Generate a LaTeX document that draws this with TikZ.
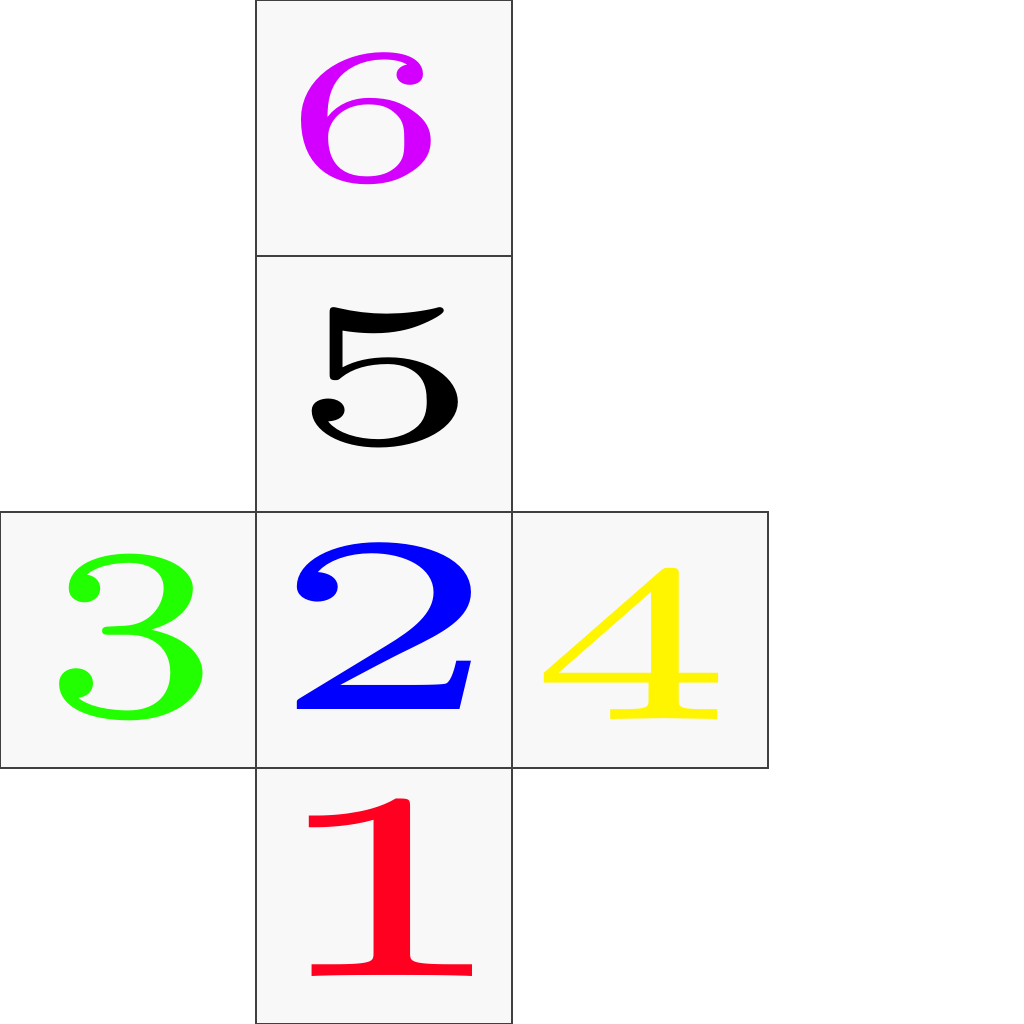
\documentclass[tikz,border=0pt]{standalone}
\usetikzlibrary{positioning}

\definecolor{facegray}{HTML}{F8F8F8}
\definecolor{sixcol}{HTML}{D400FF}
\definecolor{twocol}{HTML}{0000FF}
\definecolor{threecol}{HTML}{22FF00}
\definecolor{fourcol}{HTML}{FFF500}
\definecolor{onecol}{HTML}{FF0020}

\begin{document}
\begin{tikzpicture}[
  face/.style={draw=black!75, line width=0.35pt, fill=facegray, minimum size=2.56cm, inner sep=0pt, outer sep=0pt},
  num/.style={inner sep=0pt, font=\fontsize{5}{6}\selectfont}
]
\useasboundingbox (0,0) rectangle (10.24,10.24);

% --- Faces of the net ---
\node[face] (f6) at (3.84, 8.96) {};
\node[face] (f5) [below=0pt of f6] {};
\node[face] (f2) [below=0pt of f5] {};
\node[face] (f1) [below=0pt of f2] {};
\node[face] (f3) [left=0pt of f2] {};
\node[face] (f4) [right=0pt of f2] {};

% --- Numbers ---
\node[num, text=sixcol,   xscale=14.2, yscale=10.92] (n6) at (3.66, 9.05) {6};
\node[num, text=black,    xscale=16.7, yscale=11.61] (n5) at (3.85, 6.46) {5};
\node[num, text=twocol,   xscale=19.9, yscale=14.25] (n2) at (3.85, 3.98) {2};
\node[num, text=threecol, xscale=15.7, yscale=13.79] (n3) at (1.31, 3.87) {3};
\node[num, text=fourcol,  xscale=17.9, yscale=12.71] (n4) at (6.32, 3.80) {4};
\node[num, text=onecol,   xscale=22.6, yscale=15.17] (n1) at (3.88, 1.36) {1};

\end{tikzpicture}
\end{document}
